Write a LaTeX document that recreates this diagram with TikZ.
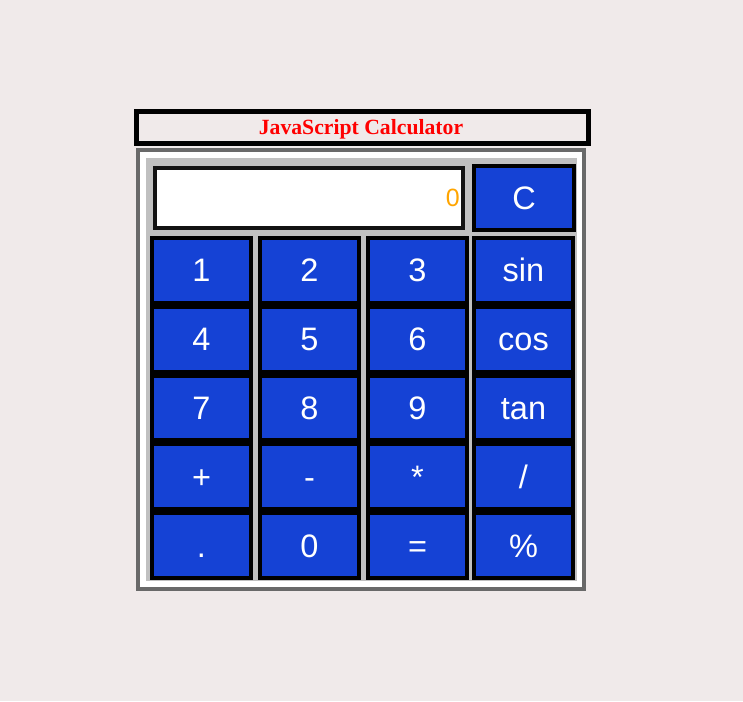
\documentclass[tikz,border=0pt]{standalone}
\usepackage{xcolor}
\usepackage{fontspec}
\setmainfont{Liberation Serif}
\newfontfamily\keyfont{Liberation Sans}
\usepackage{tikz}
\usetikzlibrary{positioning}

\definecolor{pagebg}{RGB}{240,234,234}
\definecolor{keyblue}{RGB}{21,66,213}
\definecolor{framegray}{RGB}{105,105,105}
\definecolor{panelgray}{RGB}{192,192,192}
\definecolor{readoutorange}{RGB}{255,165,0}

\tikzset{
  key/.style={draw=black, line width=4pt, fill=keyblue, inner sep=0pt,
    minimum width=99pt, minimum height=64.8pt, text=white,
    font=\keyfont\fontsize{32.5}{32.5}\selectfont, text height=23pt, text depth=0pt},
  screen/.style={draw=black!93, line width=4pt, fill=white, inner sep=0pt,
    minimum width=308pt, minimum height=60pt}
}

\begin{document}
\begin{tikzpicture}[x=1pt,y=-1pt]
% Page
\fill[pagebg] (0,0) rectangle (743,701);
\useasboundingbox (0,0) rectangle (743,701);

% Title bar
\node[draw=black, line width=5pt, fill=pagebg, inner sep=0pt,
  minimum width=452pt, minimum height=32pt] (title) at (362.5,127.5) {};
\node[text=red, font=\bfseries\fontsize{21.7}{21.7}\selectfont, anchor=base]
  (titletext) at (361,134.5) {JavaScript Calculator};

% Calculator frame
\draw[framegray, line width=4pt, fill=white] (138,150) rectangle (584,589);
\fill[panelgray] (146,158) rectangle (577,581);

% Display and clear key
\node[screen] (screen) at (309,198) {};
\node[text=readoutorange, font=\keyfont\fontsize{25}{25}\selectfont,
  anchor=base east, inner sep=0pt] (readout) at (460,206) {0};
\node[key, minimum width=100pt, minimum height=64pt] (clear) at (524,198) {C};

% Keys
\foreach \c/\r/\t in {0/0/1, 1/0/2, 2/0/3, 3/0/sin,
                       0/1/4, 1/1/5, 2/1/6, 3/1/cos,
                       0/2/7, 1/2/8, 2/2/9, 3/2/tan,
                       0/3/+, 1/3/-, 2/3/*, 3/3/{/},
                       0/4/., 1/4/0, 2/4/=, 3/4/\%}
{
  \pgfmathsetmacro\kx{{201.5,309.5,417.5,523.5}[\c]}
  \pgfmathsetmacro\ky{270.4+68.8*\r}
  \node[key] (key-\c-\r) at (\kx,\ky) {\t};
}
\end{tikzpicture}
\end{document}
